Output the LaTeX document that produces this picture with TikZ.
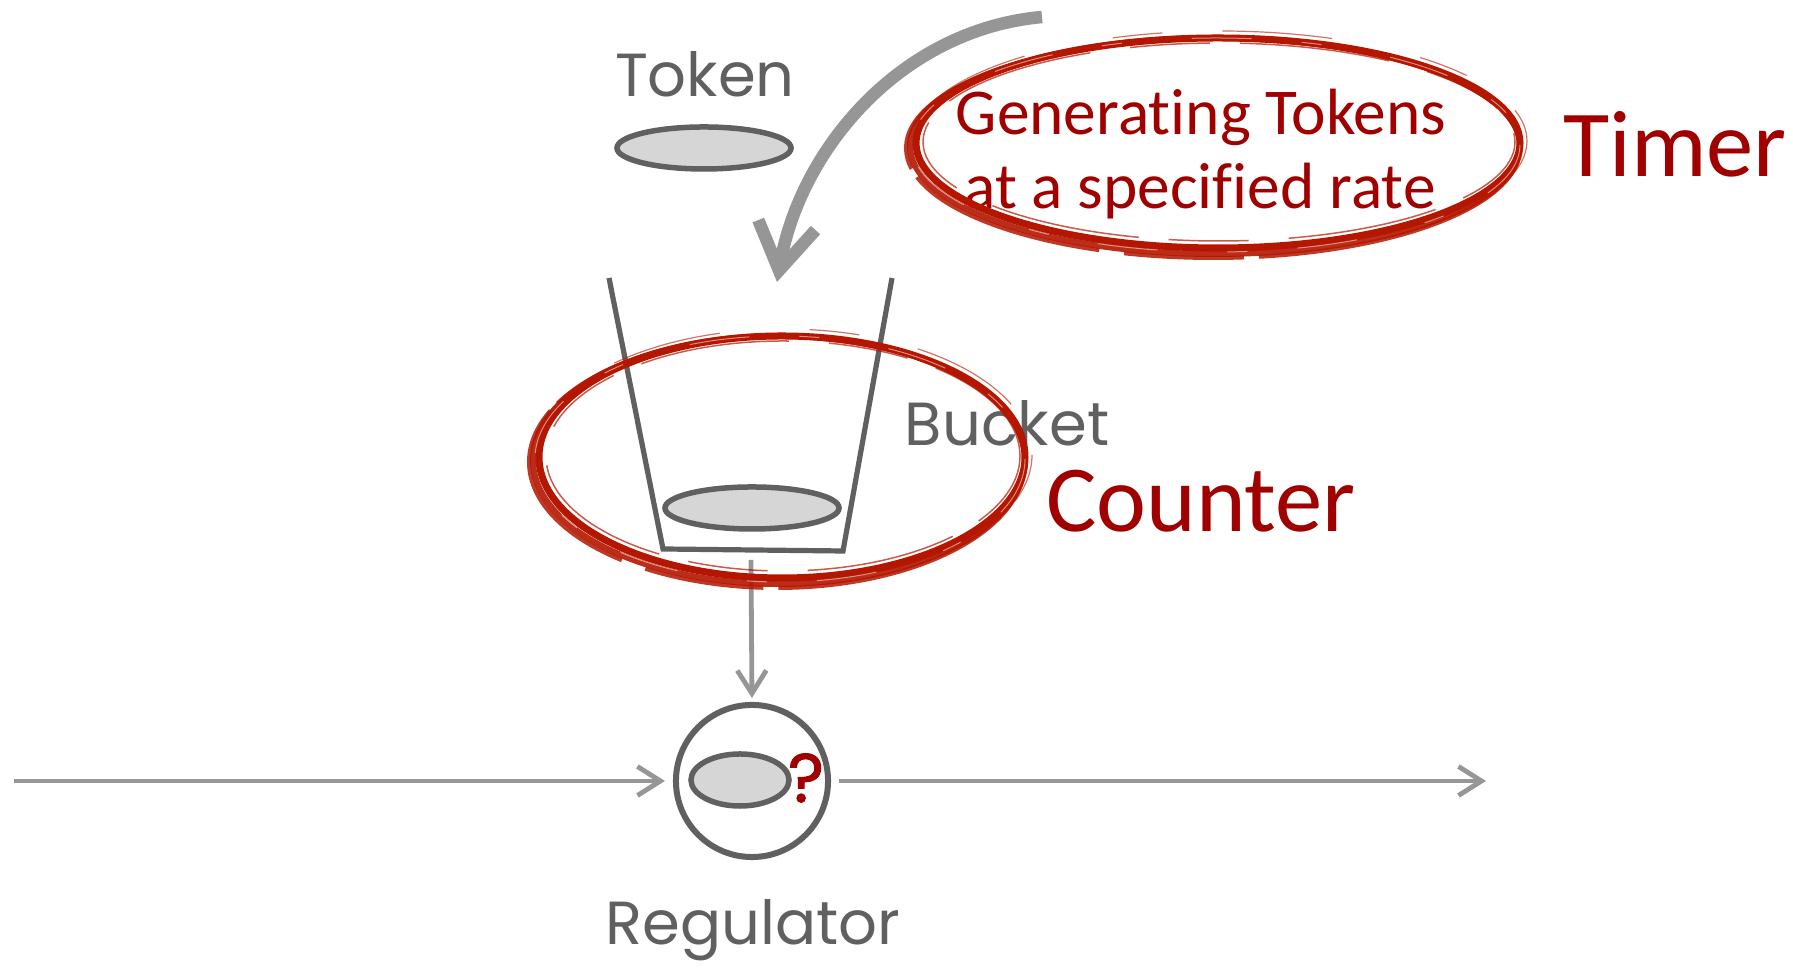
\documentclass[tikz,border=0pt]{standalone}
\usepackage{fontspec}
\setmainfont{Carlito}[Ligatures=NoCommon]
\newfontfamily\handfont{Poppins}
\newfontfamily\askfont{Poppins}[FakeBold=1.6]
\usetikzlibrary{arrows.meta,shapes.geometric,calc}

\definecolor{inkgray}{RGB}{96,96,96}
\definecolor{wiregray}{RGB}{150,150,150}
\definecolor{tokenfill}{RGB}{214,214,214}
\definecolor{notered}{RGB}{160,0,0}
\definecolor{ringred}{RGB}{180,22,0}

% a brush-stroke ring: centre, x radius, y radius (picture units);
% the extra strokes thicken it towards the lower left
\newcommand\roughring[3]{%
  \draw[ringred, line width=0.7mm] #1 ellipse[x radius=#2, y radius=#3];
  \draw[ringred, line width=0.6mm, opacity=0.9]
        ($#1+(-3,3)$) ellipse[x radius=#2+3, y radius=#3+3];
  \draw[ringred, line width=0.4mm, opacity=0.85,
        dash pattern=on 30mm off 1.5mm on 12mm off 2.5mm on 20mm off 1mm]
        ($#1+(-5,5)$) ellipse[x radius=#2+5, y radius=#3+5];
  \draw[ringred, line width=0.15mm, opacity=0.7,
        dash pattern=on 8mm off 3mm on 15mm off 4mm]
        ($#1+(1,-1)$) ellipse[x radius=#2-6, y radius=#3-6];
  \draw[ringred, line width=0.12mm, opacity=0.6,
        dash pattern=on 5mm off 6mm on 11mm off 9mm]
        ($#1+(2,-2)$) ellipse[x radius=#2+5, y radius=#3+5];
  \draw[white, line width=0.1mm, opacity=0.5,
        dash pattern=on 6mm off 5mm on 2mm off 7mm]
        ($#1+(-2,2)$) ellipse[x radius=#2+2, y radius=#3+2];
}

\begin{document}
\begin{tikzpicture}[x=0.01cm, y=-0.01cm,
  hand/.style={font=\handfont\fontsize{17.3}{21}\selectfont, text=inkgray,
               inner sep=0, anchor=base},
  note/.style={font=\fontsize{18.6}{23}\selectfont, text=notered,
               inner sep=0, anchor=base},
  bigword/.style={font=\fontsize{26.9}{32}\selectfont, text=notered,
                  inner sep=0, anchor=base},
  token/.style={ellipse, draw=inkgray, fill=tokenfill, line width=0.55mm,
                inner sep=0, minimum width=1.74cm, minimum height=0.42cm},
  wire/.style={draw=wiregray, line width=0.48mm,
               -{Straight Barb[length=2.3mm,width=2.9mm]}},
  feed/.style={draw=wiregray, line width=1.25mm,
               -{Straight Barb[length=4.6mm,width=5.8mm]}},
  bucketwall/.style={draw=inkgray, line width=0.52mm},
]

\fill[white] (0,0) rectangle (1793,971);
\useasboundingbox (0,0) rectangle (1793,971);

% token waiting to enter the bucket
\node[hand] (tokenlabel) at (705,97) {Token};
\node[token] (freetoken) at (704,148) {};

% token generator arrow
\coordinate (feedstart) at (1042,17);
\coordinate (feedend) at (777,282);
\draw[feed] (feedstart) .. controls (900,30) and (800,150) .. (feedend);

% bucket
\coordinate (bktTL) at (609,278);
\coordinate (bktBL) at (663,549);
\coordinate (bktBR) at (843,551);
\coordinate (bktTR) at (892,278);
\draw[bucketwall] (bktTL) -- (bktBL) -- (bktBR) -- (bktTR);
\node[token] (stock) at (752,508) {};
\node[hand] (bucketlabel) at (1007,446) {Bucket};

% regulator
\node[circle, draw=inkgray, line width=0.6mm, minimum size=1.52cm, inner sep=0]
  (reg) at (752,781) {};
\node[token, minimum width=0.98cm, minimum height=0.52cm] (regtoken) at (740,780) {};
\node[font=\askfont\fontsize{19.5}{21}\selectfont, text=notered, inner sep=0]
  (ask) at (806,778) {?};
\node[hand] (reglabel) at (753,945) {Regulator};

% flows
\coordinate (bucketbase) at (751,560);
\coordinate (inflow) at (14,781);
\coordinate (outflow) at (1486,781);
\draw[wire, shorten >=0.4mm] (bucketbase) -- (reg.north);
\draw[wire, shorten >=0.8mm] (inflow) -- (reg.west);
\draw[wire, shorten <=0.8mm] (reg.east) -- (outflow);

% timer annotation
\node[note] (gen1) at (1201,135) {Generating Tokens};
\node[note] (gen2) at (1200,209) {at a specified rate};
\node[bigword] (timer) at (1675,177) {Timer};
\roughring{(1218,143)}{302}{105}

% counter annotation
\node[bigword] (counter) at (1201,532) {Counter};
\roughring{(782,457)}{243}{121}

\end{tikzpicture}
\end{document}
